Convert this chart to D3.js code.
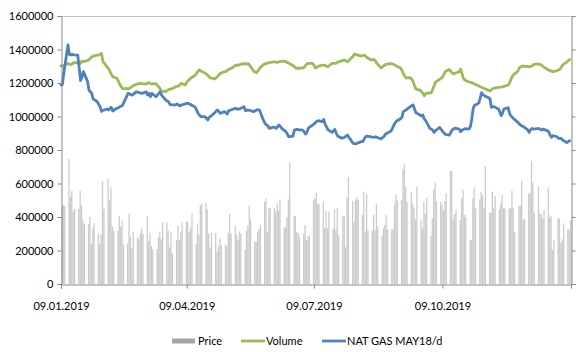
<!DOCTYPE html>
<html>
<head>
<meta charset="utf-8">
<script src="https://cdn.jsdelivr.net/npm/d3@7/dist/d3.min.js"></script>
<style>
  html, body { margin: 0; padding: 0; background: #fff; }
  svg { display: block; font-family: Lato, "Open Sans", sans-serif; }
</style>
</head>
<body>
<svg id="chart" width="576" height="352"></svg>
<script>
// Trading days run Wednesday 9 Jan 2019 to Wednesday 8 Jan 2020 (weekdays only).
const firstDay = "2019-01-09";
const lastDay = "2020-01-08";

// Daily series, in thousands (one value per trading day, grouped by week).
const priceK = [
  462, 470, 466,
  746, 521, 555, 432, 448,   448, 557, 469, 380, 358,   358, 400, 239, 330, 362,
  298, 239, 295, 611, 448,   627, 501, 577, 346, 318,   318, 406, 342, 378, 233,
  240, 418, 282, 213, 312,   279, 267, 300, 332, 297,   406, 258, 306, 227, 209,
  209, 276, 312, 267, 368,   368, 322, 219, 312, 183,   263, 346, 263, 312, 368,
  372, 372, 312, 338, 422,   239, 362, 292, 470, 482,   482, 446, 303, 219, 306,
  306, 193, 223, 273, 233,   233, 223, 306, 418, 300,   346, 292, 263, 312, 300,
  203, 318, 346, 466, 386,   253, 253, 312, 330, 352,   491, 511, 312, 452, 452,
  452, 432, 482, 438, 505,   338, 338, 398, 505, 724,   406, 406, 312, 303, 279,
  303, 352, 263, 282, 290,   501, 511, 545, 478, 478,   491, 332, 438, 332, 432,
  332, 446, 320, 452, 292,   406, 406, 219, 517, 640,   497, 372, 501, 517, 501,
  412, 551, 312, 537, 320,   320, 412, 320, 478, 342,   287, 332, 352, 412, 326,
  326, 326, 472, 537, 501,   501, 684, 716, 581, 491,   551, 482, 452, 386, 581,
  380, 332, 491, 418, 517,   287, 392, 565, 605, 491,   491, 472, 438, 491, 541,
  675, 675, 386, 418, 442,   382, 511, 561, 412, 400,   263, 263, 511, 577, 452,
  505, 551, 531, 452, 704,   426, 426, 551, 452, 525,   446, 482, 531, 452, 452,
  452, 452, 557, 452, 312,   466, 466, 617, 386, 386,   541, 541, 736, 605, 426,
  581, 418, 418, 392, 442,   577, 398, 406, 203, 263,   392, 392, 247, 267, 362,
  326, 326, 380
];

const volumeK = [
  1303, 1300, 1304,
  1316, 1313, 1310, 1313, 1321,   1322, 1318, 1317, 1331, 1327,   1335, 1338, 1347, 1357, 1360,
  1366, 1367, 1372, 1377, 1330,   1295, 1288, 1270, 1252, 1238,   1228, 1212, 1194, 1178, 1167,
  1166, 1164, 1168, 1173, 1180,   1192, 1195, 1197, 1198, 1196,   1194, 1199, 1202, 1196, 1194,
  1196, 1186, 1177, 1165, 1152,   1148, 1155, 1161, 1163, 1164,   1178, 1180, 1182, 1188, 1198,
  1188, 1205, 1214, 1222, 1230,   1246, 1257, 1270, 1278, 1272,   1260, 1254, 1246, 1237, 1230,
  1224, 1231, 1239, 1248, 1256,   1268, 1268, 1275, 1282, 1284,   1299, 1307, 1307, 1306, 1310,
  1316, 1315, 1313, 1316, 1306,   1270, 1266, 1262, 1272, 1286,   1310, 1314, 1318, 1319, 1321,
  1326, 1326, 1325, 1323, 1327,   1330, 1329, 1327, 1322, 1318,   1305, 1297, 1289, 1288, 1288,
  1290, 1294, 1305, 1314, 1317,   1317, 1307, 1290, 1292, 1300,   1307, 1307, 1305, 1300, 1297,
  1317, 1317, 1317, 1318, 1325,   1333, 1335, 1337, 1332, 1327,   1350, 1360, 1373, 1370, 1368,
  1361, 1364, 1367, 1360, 1352,   1337, 1339, 1341, 1332, 1318,   1290, 1295, 1303, 1309, 1313,
  1316, 1314, 1312, 1307, 1302,   1290, 1276, 1255, 1241, 1230,   1232, 1222, 1209, 1185, 1164,
  1158, 1148, 1138, 1124, 1136,   1141, 1142, 1160, 1182, 1205,   1222, 1228, 1235, 1250, 1268,
  1280, 1270, 1260, 1254, 1258,   1267, 1282, 1256, 1228, 1218,   1206, 1204, 1202, 1198, 1194,
  1183, 1178, 1174, 1170, 1167,   1156, 1152, 1160, 1166, 1169,   1174, 1175, 1176, 1177, 1180,
  1188, 1200, 1222, 1240, 1250,   1270, 1290, 1297, 1300, 1301,   1298, 1297, 1299, 1301, 1309,
  1314, 1312, 1310, 1307, 1298,   1282, 1278, 1274, 1271, 1268,   1274, 1278, 1281, 1293, 1308,
  1325, 1333, 1340
];

const natGasK = [
  1188, 1190, 1258,
  1427, 1370, 1367, 1372, 1368,   1367, 1290, 1215, 1235, 1268,   1210, 1158, 1148, 1138, 1105,
  1088, 1072, 1058, 1030, 1036,   1045, 1039, 1046, 1055, 1033,   1049, 1052, 1058, 1061, 1066,
  1120, 1138, 1135, 1130, 1128,   1148, 1145, 1142, 1140, 1138,   1148, 1128, 1138, 1118, 1138,
  1118, 1128, 1138, 1148, 1128,   1098, 1092, 1088, 1072, 1069,   1069, 1075, 1070, 1063, 1068,
  1075, 1079, 1078, 1076, 1070,   1056, 1040, 1020, 1009, 1000,    999,  990,  979,  995, 1000,
  1022, 1032, 1039, 1029, 1019,   1029, 1022, 1015, 1035, 1037,   1046, 1049, 1045, 1043, 1046,
  1059, 1035, 1037, 1039, 1036,   1029, 1035, 1039, 1039, 1039,    975,  959,  950,  945,  929,
   937,  934,  929,  940,  949,    921,  915,  909,  895,  879,    883,  919,  921,  923,  921,
   919,  909,  895,  905,  930,    949,  955,  962,  970,  975,    969,  983,  955,  939,  922,
   905,  913,  923,  900,  883,    870,  873,  876,  883,  889,    852,  840,  838,  836,  841,
   850,  850,  865,  880,  883,    879,  876,  877,  879,  876,    866,  873,  880,  892,  899,
   912,  925,  945,  960,  972,    987,  995, 1029, 1034, 1039,   1059, 1065, 1069, 1045, 1022,
  1009, 1003, 1009,  985,  975,    929,  925,  919,  905,  915,    935,  924,  912,  903,  893,
   889,  905,  920,  925,  930,    925,  909,  918,  923,  927,    925,  940,  985, 1049, 1066,
  1080, 1110, 1142, 1130, 1124,   1112, 1106, 1055, 1057, 1059,   1045, 1030, 1005, 1020, 1045,
  1053, 1020, 1003,  995,  987,    965,  955,  948,  943,  939,    920,  905,  920,  929,  925,
   928,  928,  925,  919,  925,    916,  909,  890,  876,  886,    879,  870,  869,  869,  860,
   844,  850,  855
];

const yTicks = [0, 200000, 400000, 600000, 800000, 1000000, 1200000, 1400000, 1600000];
const xTickDates = ["2019-01-09", "2019-04-09", "2019-07-09", "2019-10-09", "2020-01-09"];
const xTickLabels = ["09.01.2019", "09.04.2019", "09.07.2019", "09.10.2019", ""];
const seriesNames = ["Price", "Volume", "NAT GAS MAY18/d"];
const seriesColors = ["#a5a5a5", "#9bbb59", "#4f81bd"];

const parse = d3.utcParse("%Y-%m-%d");
const days = d3.utcDay.range(parse(firstDay), d3.utcDay.offset(parse(lastDay), 1))
  .filter(d => d.getUTCDay() !== 0 && d.getUTCDay() !== 6);

const rows = days.map((date, i) => ({
  date,
  price: priceK[i] * 1000,
  volume: volumeK[i] * 1000,
  natGas: natGasK[i] * 1000
}));

const svg = d3.select("#chart");
const plotLeft = 61, plotRight = 571, plotTop = 16, plotBottom = 284;

const x = d3.scaleUtc()
  .domain([parse(xTickDates[0]), parse(xTickDates[xTickDates.length - 1])])
  .range([plotLeft, plotRight]);
const y = d3.scaleLinear().domain([0, 1600000]).range([plotBottom, plotTop]);

const slot = x(d3.utcDay.offset(parse(firstDay), 1)) - x(parse(firstDay));
const barW = slot * 0.9;

// plot-area top edge
svg.append("line")
  .attr("x1", plotLeft).attr("x2", plotRight).attr("y1", plotTop + 0.5).attr("y2", plotTop + 0.5)
  .attr("stroke", "#b3c7e1").attr("stroke-width", 1);

// columns: thin daily bars, drawn lighter so neighbouring days blend
svg.append("g").selectAll("rect").data(rows).join("rect")
  .attr("x", d => x(d.date) + 1 - barW / 2)
  .attr("width", barW)
  .attr("y", d => y(d.price))
  .attr("height", d => y(0) - y(d.price))
  .attr("fill", seriesColors[0])
  .attr("fill-opacity", 0.58);

// lines
const lineOf = key => d3.line().x(d => x(d.date)).y(d => y(d[key]));
svg.append("path").datum(rows)
  .attr("d", lineOf("volume"))
  .attr("fill", "none").attr("stroke", seriesColors[1])
  .attr("stroke-width", 2.8).attr("stroke-linejoin", "round").attr("stroke-linecap", "round");
svg.append("path").datum(rows)
  .attr("d", lineOf("natGas"))
  .attr("fill", "none").attr("stroke", seriesColors[2])
  .attr("stroke-width", 2.8).attr("stroke-linejoin", "round").attr("stroke-linecap", "round");

// axes
const axisColor = "#868686";
const yAxisL = d3.axisLeft(y).tickValues(yTicks).tickSize(4).tickPadding(4).tickFormat(d3.format("d"));
const gL = svg.append("g").attr("transform", `translate(${plotLeft + 0.5},0)`).call(yAxisL);
gL.select(".domain").attr("stroke", axisColor);
gL.selectAll(".tick line").attr("stroke", axisColor);
gL.selectAll(".tick text").attr("fill", "#000").attr("font-size", 11).attr("font-family", "Lato, sans-serif");

const yAxisR = d3.axisRight(y).tickValues(yTicks).tickSize(4).tickFormat("");
const gR = svg.append("g").attr("transform", `translate(${plotRight + 0.5},0)`).call(yAxisR);
gR.select(".domain").attr("stroke", axisColor);
gR.selectAll(".tick line").attr("stroke", axisColor);

const xAxis = d3.axisBottom(x)
  .tickValues(xTickDates.map(parse))
  .tickSize(4).tickPadding(14)
  .tickFormat((d, i) => xTickLabels[i]);
const gX = svg.append("g").attr("transform", `translate(0,${plotBottom + 0.5})`).call(xAxis);
gX.select(".domain").attr("stroke", axisColor);
gX.selectAll(".tick line").attr("stroke", axisColor);
gX.selectAll(".tick text").attr("fill", "#000").attr("font-size", 11).attr("font-family", "Lato, sans-serif");

// legend
const legend = svg.append("g").attr("font-size", 11).attr("font-family", "Lato, sans-serif");
const legendItems = [
  { x: 172, kind: "bar" },
  { x: 241, kind: "line" },
  { x: 322, kind: "line" }
];
legendItems.forEach((it, i) => {
  if (it.kind === "bar") {
    legend.append("rect").attr("x", it.x).attr("y", 338.5).attr("width", 23).attr("height", 5)
      .attr("fill", seriesColors[i]);
  } else {
    legend.append("line").attr("x1", it.x).attr("x2", it.x + 24).attr("y1", 341).attr("y2", 341)
      .attr("stroke", seriesColors[i]).attr("stroke-width", 2.8);
  }
  legend.append("text").attr("x", it.x + (it.kind === "bar" ? 26 : 25)).attr("y", 345)
    .attr("fill", "#000").text(seriesNames[i]);
});
</script>
</body>
</html>
